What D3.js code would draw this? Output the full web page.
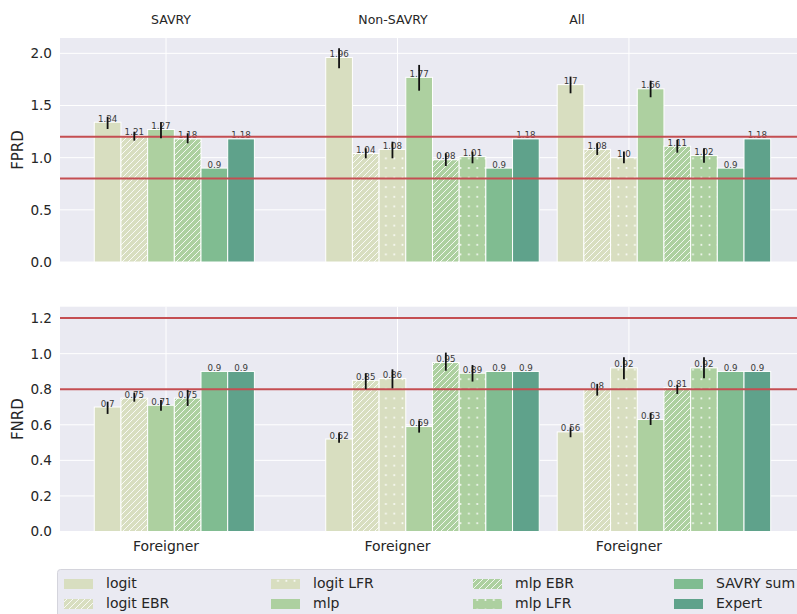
<!DOCTYPE html>
<html>
<head>
<meta charset="utf-8">
<script src="https://cdn.jsdelivr.net/npm/d3@7"></script>
<style>
  html, body { margin: 0; padding: 0; background: #ffffff; }
  svg { display: block; font-family: "DejaVu Sans", sans-serif; }
</style>
</head>
<body>
<svg id="chart" width="797" height="614"></svg>
<script>
// ---- data ----
const groups = ["SAVRY", "Non-SAVRY", "All"];
const models = ["logit", "logit EBR", "logit LFR", "mlp", "mlp EBR", "mlp LFR", "SAVRY sum", "Expert"];
const modelColors = ["#d8dec0", "#d8dec0", "#d8dec0", "#add0a0", "#add0a0", "#add0a0", "#80bc91", "#5fa28b"];
const modelHatch = ["none", "lines", "dots", "none", "lines", "dots", "none", "none"];

// FPRD means and confidence bounds (null = model not evaluated)
const fprdSavry     = [1.34, 1.21, null, 1.27, 1.18, null, 0.9, 1.18];
const fprdSavryLo   = [1.275, 1.163, null, 1.186, 1.138, null, null, null];
const fprdSavryHi   = [1.393, 1.249, null, 1.339, 1.234, null, null, null];
const fprdNonSavry   = [1.96, 1.04, 1.08, 1.77, 0.98, 1.01, 0.9, 1.18];
const fprdNonSavryLo = [1.857, 0.994, 0.994, 1.642, 0.920, 0.946, null, null];
const fprdNonSavryHi = [2.049, 1.090, 1.153, 1.889, 1.042, 1.058, null, null];
const fprdAll   = [1.7, 1.08, 1.0, 1.66, 1.11, 1.02, 0.9, 1.18];
const fprdAllLo = [1.617, 1.026, 0.946, 1.579, 1.048, 0.952, null, null];
const fprdAllHi = [1.777, 1.138, 1.058, 1.738, 1.170, 1.090, null, null];

// FNRD means and confidence bounds
const fnrdSavry     = [0.7, 0.75, null, 0.71, 0.75, null, 0.9, 0.9];
const fnrdSavryLo   = [0.661, 0.730, null, 0.679, 0.706, null, null, null];
const fnrdSavryHi   = [0.730, 0.781, null, 0.740, 0.796, null, null, null];
const fnrdNonSavry   = [0.52, 0.85, 0.86, 0.59, 0.95, 0.89, 0.9, 0.9];
const fnrdNonSavryLo = [0.499, 0.800, 0.805, 0.556, 0.904, 0.843, null, null];
const fnrdNonSavryHi = [0.552, 0.890, 0.912, 0.623, 1.006, 0.936, null, null];
const fnrdAll   = [0.56, 0.8, 0.92, 0.63, 0.81, 0.92, 0.9, 0.9];
const fnrdAllLo = [0.530, 0.764, 0.856, 0.599, 0.773, 0.862, null, null];
const fnrdAllHi = [0.586, 0.830, 0.980, 0.668, 0.824, 0.980, null, null];

const fprdTicks = [0, 0.5, 1.0, 1.5, 2.0];
const fnrdTicks = [0, 0.2, 0.4, 0.6, 0.8, 1.0, 1.2];
const fairBounds = [0.8, 1.2];
const xTickLabel = "Foreigner";

// ---- layout ----
const svg = d3.select("#chart");
const plotLeft = 60, plotRight = 797;
const groupOffset = -0.31, barWidth = 0.1153;
const titleX = [171, 393, 577];

const x = d3.scaleLinear().domain([-0.458, 2.726]).range([plotLeft, plotRight]);

const panels = [
  { label: "FPRD", top: 38, bottom: 262, max: 2.147, ticks: fprdTicks,
    vals: [fprdSavry, fprdNonSavry, fprdAll],
    lo: [fprdSavryLo, fprdNonSavryLo, fprdAllLo],
    hi: [fprdSavryHi, fprdNonSavryHi, fprdAllHi], xlabels: false, titles: true },
  { label: "FNRD", top: 306.7, bottom: 531.5, max: 1.264, ticks: fnrdTicks,
    vals: [fnrdSavry, fnrdNonSavry, fnrdAll],
    lo: [fnrdSavryLo, fnrdNonSavryLo, fnrdAllLo],
    hi: [fnrdSavryHi, fnrdNonSavryHi, fnrdAllHi], xlabels: true, titles: false }
];

// fill patterns: diagonal hatch and dots
const defs = svg.append("defs");
const hatchSet = new Set();
modelColors.forEach((c, i) => {
  const kind = modelHatch[i];
  if (kind === "none") return;
  const id = "pat-" + kind + "-" + c.slice(1);
  if (hatchSet.has(id)) return;
  hatchSet.add(id);
  if (kind === "lines") {
    const p = defs.append("pattern").attr("id", id).attr("patternUnits", "userSpaceOnUse")
      .attr("width", 6).attr("height", 6);
    p.append("rect").attr("width", 6).attr("height", 6).attr("fill", c);
    p.append("path").attr("d", "M-1,7 L7,-1 M-4,4 L4,-4 M2,10 L10,2")
      .attr("stroke", "rgba(255,255,255,0.85)").attr("stroke-width", 1);
  } else {
    const p = defs.append("pattern").attr("id", id).attr("patternUnits", "userSpaceOnUse")
      .attr("width", 8.3).attr("height", 9.6);
    p.append("rect").attr("width", 8.3).attr("height", 9.6).attr("fill", c);
    p.append("circle").attr("cx", 4.1).attr("cy", 4.8).attr("r", 1).attr("fill", "rgba(255,255,255,0.9)");
  }
});
function fillFor(i) {
  const kind = modelHatch[i];
  return kind === "none" ? modelColors[i] : `url(#pat-${kind}-${modelColors[i].slice(1)})`;
}
function fmt(v) { return Number.isInteger(v) ? v.toFixed(1) : String(v); }

panels.forEach(P => {
  const y = d3.scaleLinear().domain([0, P.max]).range([P.bottom, P.top]);
  const g = svg.append("g");

  // background
  g.append("rect").attr("x", plotLeft).attr("y", P.top)
    .attr("width", plotRight - plotLeft).attr("height", P.bottom - P.top).attr("fill", "#eaeaf2");

  // grid
  g.selectAll(".hg").data(P.ticks).join("line")
    .attr("x1", plotLeft).attr("x2", plotRight)
    .attr("y1", d => y(d)).attr("y2", d => y(d))
    .attr("stroke", "#ffffff").attr("stroke-width", 1);
  g.selectAll(".vg").data(groups).join("line")
    .attr("x1", (d, i) => x(i)).attr("x2", (d, i) => x(i))
    .attr("y1", P.top).attr("y2", P.bottom)
    .attr("stroke", "#ffffff").attr("stroke-width", 1);

  // y axis labels
  const yAxis = d3.axisLeft(y).tickValues(P.ticks).tickFormat(d3.format(".1f")).tickSize(0).tickPadding(8);
  const ya = g.append("g").attr("transform", `translate(${plotLeft},0)`).call(yAxis);
  ya.select(".domain").remove();
  ya.selectAll("text").attr("font-size", 13.6).attr("fill", "#262626")
    .attr("font-family", "DejaVu Sans, sans-serif");

  g.append("text").attr("transform", `translate(18,${(P.top + P.bottom) / 2}) rotate(-90)`)
    .attr("text-anchor", "middle").attr("dominant-baseline", "middle")
    .attr("font-size", 15).attr("fill", "#262626").text(P.label);

  // bars per group
  groups.forEach((grp, gi) => {
    const vals = P.vals[gi];
    const present = models.map((m, i) => i).filter(i => vals[i] !== null);
    const start = gi + groupOffset;
    const band = d3.scaleBand().domain(present)
      .range([x(start), x(start + barWidth * present.length)]).paddingInner(0);

    const bars = present.map(i => ({ i, v: vals[i], lo: P.lo[gi][i], hi: P.hi[gi][i] }));
    g.selectAll(null).data(bars).join("rect")
      .attr("x", d => band(d.i)).attr("width", band.bandwidth())
      .attr("y", d => y(d.v)).attr("height", d => y(0) - y(d.v))
      .attr("fill", d => fillFor(d.i))
      .attr("stroke", "#ffffff").attr("stroke-width", 1);

    bars.forEach(d => { d.cx = band(d.i) + band.bandwidth() / 2; });
    g.selectAll(null).data(bars).join("text")
      .attr("x", d => d.cx).attr("y", d => y(d.v) - 0.5)
      .attr("text-anchor", "middle").attr("font-size", 8.7).attr("fill", "#3a3a3a")
      .text(d => fmt(d.v));
    P["_bars" + gi] = bars;
  });

  // fairness bounds
  g.selectAll(".bound").data(fairBounds).join("line")
    .attr("x1", plotLeft).attr("x2", plotRight)
    .attr("y1", d => y(d)).attr("y2", d => y(d))
    .attr("stroke", "#c44e52").attr("stroke-width", 2);

  // error bars
  groups.forEach((grp, gi) => {
    const bars = P["_bars" + gi].filter(d => d.lo !== null);
    g.selectAll(null).data(bars).join("line")
      .attr("x1", d => d.cx).attr("x2", d => d.cx)
      .attr("y1", d => y(d.lo)).attr("y2", d => y(d.hi))
      .attr("stroke", "#111111").attr("stroke-width", 1.8);
  });

  // x tick labels
  if (P.xlabels) {
    g.selectAll(".xl").data(groups).join("text")
      .attr("x", (d, i) => x(i)).attr("y", P.bottom + 19)
      .attr("text-anchor", "middle").attr("font-size", 14).attr("fill", "#262626")
      .text(xTickLabel);
  }
  if (P.titles) {
    g.selectAll(".tt").data(groups).join("text")
      .attr("x", (d, i) => titleX[i]).attr("y", 24)
      .attr("text-anchor", "middle").attr("font-size", 12.5).attr("fill", "#262626")
      .text(d => d);
  }
});

// legend (4 columns, column-major)
const leg = svg.append("g");
leg.append("rect").attr("x", 57.5).attr("y", 569.5).attr("width", 800).attr("height", 60)
  .attr("rx", 3).attr("fill", "#eaeaf2").attr("stroke", "#d4d4dc").attr("stroke-width", 1);
const colX = [64, 271, 473, 674];
const rowY = [584, 604];
models.forEach((m, i) => {
  const c = Math.floor(i / 2), r = i % 2;
  leg.append("rect").attr("x", colX[c]).attr("y", rowY[r] - 5).attr("width", 29).attr("height", 10)
    .attr("fill", fillFor(i));
  leg.append("text").attr("x", colX[c] + 42).attr("y", rowY[r])
    .attr("dominant-baseline", "middle").attr("font-size", 14).attr("fill", "#262626").text(m);
});
</script>
</body>
</html>
